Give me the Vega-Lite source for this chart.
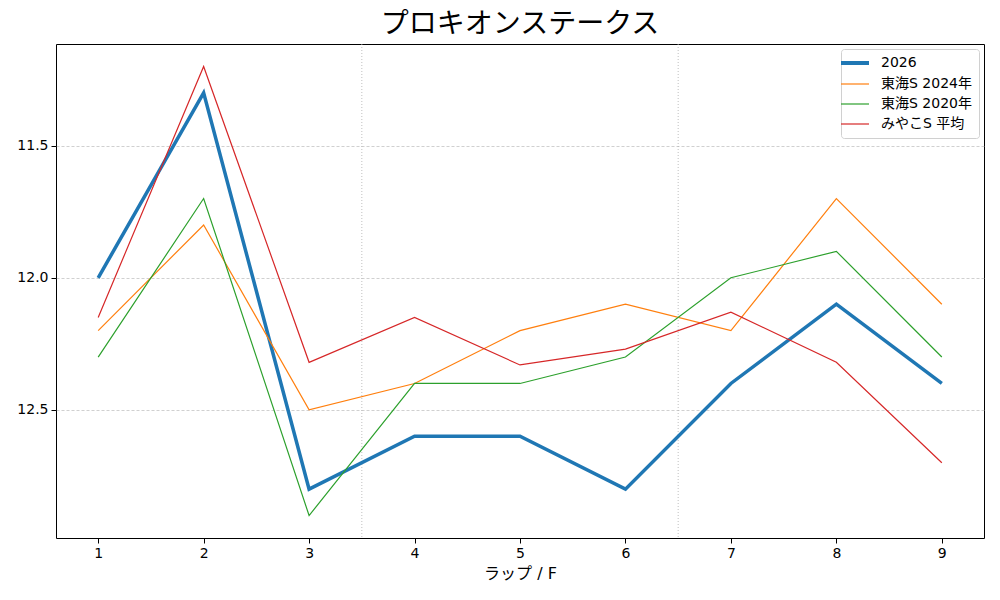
{
  "$schema": "https://vega.github.io/schema/vega-lite/v6.json",
  "width": 928,
  "height": 494,
  "autosize": "none",
  "padding": {"left": 56, "top": 44, "right": 16, "bottom": 62},
  "background": "white",
  "config": {
    "font": "DejaVu Sans, Noto Sans CJK JP",
    "view": {"stroke": "black", "strokeWidth": 1}
  },
  "title": {
    "text": "プロキオンステークス",
    "font": "Noto Sans CJK JP",
    "fontSize": 28,
    "fontWeight": "normal",
    "color": "black",
    "offset": 5
  },
  "datasets": {
    "laps": [
      {"series": "2026", "lap": 1, "time": 12.0},
      {"series": "2026", "lap": 2, "time": 11.3},
      {"series": "2026", "lap": 3, "time": 12.8},
      {"series": "2026", "lap": 4, "time": 12.6},
      {"series": "2026", "lap": 5, "time": 12.6},
      {"series": "2026", "lap": 6, "time": 12.8},
      {"series": "2026", "lap": 7, "time": 12.4},
      {"series": "2026", "lap": 8, "time": 12.1},
      {"series": "2026", "lap": 9, "time": 12.4},
      {"series": "東海S 2024年", "lap": 1, "time": 12.2},
      {"series": "東海S 2024年", "lap": 2, "time": 11.8},
      {"series": "東海S 2024年", "lap": 3, "time": 12.5},
      {"series": "東海S 2024年", "lap": 4, "time": 12.4},
      {"series": "東海S 2024年", "lap": 5, "time": 12.2},
      {"series": "東海S 2024年", "lap": 6, "time": 12.1},
      {"series": "東海S 2024年", "lap": 7, "time": 12.2},
      {"series": "東海S 2024年", "lap": 8, "time": 11.7},
      {"series": "東海S 2024年", "lap": 9, "time": 12.1},
      {"series": "東海S 2020年", "lap": 1, "time": 12.3},
      {"series": "東海S 2020年", "lap": 2, "time": 11.7},
      {"series": "東海S 2020年", "lap": 3, "time": 12.9},
      {"series": "東海S 2020年", "lap": 4, "time": 12.4},
      {"series": "東海S 2020年", "lap": 5, "time": 12.4},
      {"series": "東海S 2020年", "lap": 6, "time": 12.3},
      {"series": "東海S 2020年", "lap": 7, "time": 12.0},
      {"series": "東海S 2020年", "lap": 8, "time": 11.9},
      {"series": "東海S 2020年", "lap": 9, "time": 12.3},
      {"series": "みやこS 平均", "lap": 1, "time": 12.15},
      {"series": "みやこS 平均", "lap": 2, "time": 11.2},
      {"series": "みやこS 平均", "lap": 3, "time": 12.32},
      {"series": "みやこS 平均", "lap": 4, "time": 12.15},
      {"series": "みやこS 平均", "lap": 5, "time": 12.33},
      {"series": "みやこS 平均", "lap": 6, "time": 12.27},
      {"series": "みやこS 平均", "lap": 7, "time": 12.13},
      {"series": "みやこS 平均", "lap": 8, "time": 12.32},
      {"series": "みやこS 平均", "lap": 9, "time": 12.7}
    ],
    "splits": [
      {"lap": 3.5},
      {"lap": 6.5}
    ]
  },
  "layer": [
    {
      "data": {"name": "splits"},
      "mark": {"type": "rule", "color": "#b0b0b0", "strokeWidth": 0.8, "strokeDash": [1, 2]},
      "encoding": {
        "x": {"field": "lap", "type": "quantitative"}
      }
    },
    {
      "data": {"name": "laps"},
      "mark": {"type": "line", "clip": true},
      "encoding": {
        "x": {
          "field": "lap",
          "type": "quantitative",
          "scale": {"domain": [0.6, 9.4], "nice": false, "zero": false},
          "axis": {
            "title": "ラップ / F",
            "titleFontSize": 16,
            "titleFontWeight": "normal",
            "titleColor": "black",
            "titlePadding": 5,
            "values": [1, 2, 3, 4, 5, 6, 7, 8, 9],
            "format": "d",
            "labelFontSize": 14,
            "labelColor": "black",
            "labelPadding": 3,
            "tickColor": "black",
            "tickSize": 5,
            "domain": false,
            "grid": false
          }
        },
        "y": {
          "field": "time",
          "type": "quantitative",
          "scale": {"domain": [11.115, 12.985], "nice": false, "zero": false, "reverse": true},
          "axis": {
            "title": null,
            "values": [11.5, 12.0, 12.5],
            "format": ".1f",
            "labelFontSize": 14,
            "labelColor": "black",
            "labelPadding": 3,
            "tickColor": "black",
            "tickSize": 5,
            "domain": false,
            "grid": true,
            "gridColor": "#b0b0b0",
            "gridDash": [3, 2],
            "gridWidth": 0.6
          }
        },
        "color": {
          "field": "series",
          "type": "nominal",
          "sort": ["2026", "東海S 2024年", "東海S 2020年", "みやこS 平均"],
          "scale": {
            "domain": ["2026", "東海S 2024年", "東海S 2020年", "みやこS 平均"],
            "range": ["#1f77b4", "#ff7f0e", "#2ca02c", "#d62728"]
          },
          "legend": {
            "title": null,
            "orient": "top-right",
            "offset": 5,
            "symbolType": "stroke",
            "symbolSize": 784,
            "symbolStrokeWidth": 1.2,
            "labelFontSize": 14,
            "labelColor": "black",
            "labelOffset": 19,
            "rowPadding": 6,
            "padding": 7,
            "strokeColor": "#d0d0d0",
            "cornerRadius": 3,
            "fillColor": "white",
            "encode": {
              "symbols": {
                "update": {
                  "strokeWidth": {"signal": "datum.value === '2026' ? 4 : 1.2"}
                }
              }
            }
          }
        },
        "strokeWidth": {
          "condition": {"test": "datum.series === '2026'", "value": 3.5},
          "value": 1.2
        }
      }
    }
  ]
}
